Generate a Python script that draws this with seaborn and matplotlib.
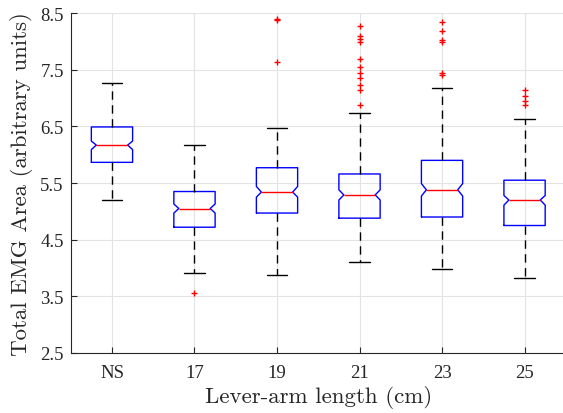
import matplotlib
matplotlib.use("Agg")
import matplotlib.pyplot as plt
import seaborn as sns

# Values
groups = ["NS", "17", "19", "21", "23", "25"]
q1 = [5.865, 4.72, 4.97, 4.88, 4.90, 4.75]
med = [6.17, 5.05, 5.34, 5.29, 5.38, 5.20]
q3 = [6.49, 5.35, 5.77, 5.66, 5.90, 5.55]
whislo = [5.20, 3.91, 3.88, 4.11, 3.99, 3.83]
whishi = [7.27, 6.17, 6.48, 6.74, 7.18, 6.63]
notch_lo = [6.09, 4.97, 5.25, 5.20, 5.27, 5.11]
notch_hi = [6.24, 5.13, 5.44, 5.38, 5.49, 5.28]
out_ns = []
out_17 = [3.56]
out_19 = [7.64, 8.37, 8.39]
out_21 = [6.88, 7.14, 7.23, 7.36, 7.45, 7.54, 7.69, 7.99, 8.04, 8.09, 8.28]
out_23 = [7.41, 7.45, 7.99, 8.03, 8.18, 8.35]
out_25 = [6.88, 6.95, 7.03, 7.15]
outliers = [out_ns, out_17, out_19, out_21, out_23, out_25]

sns.set_theme(style="whitegrid")
plt.rcParams["font.family"] = ["Liberation Serif", "DejaVu Serif"]

fig = plt.figure(figsize=(5.63, 4.14), dpi=100)
ax = fig.add_axes([0.1256, 0.145, 0.8794, 0.821])

stats = []
for i, g in enumerate(groups):
    stats.append(dict(label=g, q1=q1[i], med=med[i], q3=q3[i],
                      whislo=whislo[i], whishi=whishi[i],
                      cilo=notch_lo[i], cihi=notch_hi[i],
                      fliers=outliers[i]))

positions = list(range(1, len(groups) + 1))
width = 0.5
art = ax.bxp(stats, positions=positions, widths=width, shownotches=True,
             boxprops=dict(color="blue", linewidth=1.0),
             medianprops=dict(color="red", linewidth=1.0),
             whiskerprops=dict(color="black", linewidth=1.0, linestyle=(0, (6, 4))),
             capprops=dict(color="black", linewidth=1.0),
             flierprops=dict(marker="+", markeredgecolor="red", markersize=5,
                             markeredgewidth=1.0, linestyle="none"),
             manage_ticks=False)

# MATLAB-style notches are shallower than matplotlib's
for pos, box, m in zip(positions, art["boxes"], art["medians"]):
    xs = list(box.get_xdata())
    xs[3] = pos + 0.19
    xs[8] = pos - 0.19
    box.set_xdata(xs)
    m.set_xdata([pos - 0.19, pos + 0.19])

ax.set_xlim(0.5, 6.5)
ax.set_ylim(2.5, 8.5)
ax.set_xticks(positions)
ax.set_xticklabels(groups)
ax.set_yticks([2.5, 3.5, 4.5, 5.5, 6.5, 7.5, 8.5])
ax.set_yticklabels(["2.5", "3.5", "4.5", "5.5", "6.5", "7.5", "8.5"])

ax.grid(True, color="#e3e3e3", linewidth=0.8)
ax.set_axisbelow(True)
for side in ["top", "right"]:
    ax.spines[side].set_visible(False)
for side in ["left", "bottom"]:
    ax.spines[side].set_color("#262626")
    ax.spines[side].set_linewidth(0.8)
ax.tick_params(direction="in", length=4, width=0.8, color="#262626",
               labelsize=13.5, labelcolor="#262626", left=True, bottom=True)
ax.tick_params(axis="x", pad=8)
ax.tick_params(axis="y", pad=5)

ax.set_xlabel("Lever-arm length (cm)", fontsize=16.5, family="cmr10", color="#262626", labelpad=3)
ax.set_ylabel("Total EMG Area (arbitrary units)", fontsize=16.5, family="cmr10", color="#262626", labelpad=5)

fig.savefig("out.png", dpi=100)
